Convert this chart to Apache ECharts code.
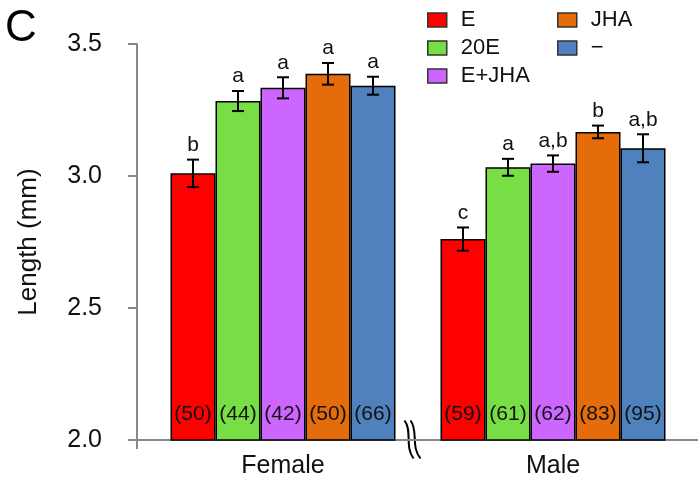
<!DOCTYPE html>
<html>
<head>
<meta charset="utf-8">
<title>Length (mm)</title>
<script src="https://cdn.jsdelivr.net/npm/echarts@6/dist/echarts.min.js"></script>
<style>
  html, body { margin: 0; padding: 0; background: #fff; }
  #chart { width: 698px; height: 491px; }
</style>
</head>
<body>
<div id="chart"></div>
<script>
// groups on the x axis and treatments (one bar each)
var groups = ['Female', 'Male'];
var treatments = ['E', '20E', 'E+JHA', 'JHA', '−'];

// mean length (mm) per treatment
var femaleMean = [3.010, 3.284, 3.334, 3.387, 3.342];
var maleMean = [2.761, 3.033, 3.047, 3.167, 3.105];

// error bar half-length
var femaleErr = [0.052, 0.038, 0.040, 0.041, 0.034];
var maleErr = [0.044, 0.032, 0.031, 0.024, 0.053];

// sample sizes
var femaleN = [50, 44, 42, 50, 66];
var maleN = [59, 61, 62, 83, 95];

// significance letters
var femaleLetters = ['b', 'a', 'a', 'a', 'a'];
var maleLetters = ['c', 'a', 'a,b', 'b', 'a,b'];

// y axis ticks
var yMin = 2.0, yMax = 3.5, yStep = 0.5;

var colors = ['#ff0000', '#77df45', '#cc66ff', '#e46c0a', '#4f81bd'];
var FONT = '"Liberation Sans", Arial, sans-serif';
var BAR_W = 45;

window.onload = function () {
    var myChart = echarts.init(document.getElementById('chart'));

    var means = [femaleMean, maleMean];
    var errs = [femaleErr, maleErr];
    var counts = [femaleN, maleN];
    var letters = [femaleLetters, maleLetters];

    var series = [];
    // one bar series per treatment
    for (let k = 0; k < treatments.length; k++) {
        series.push({
            name: treatments[k],
            type: 'bar',
            xAxisIndex: 0,
            yAxisIndex: 0,
            barWidth: BAR_W,
            barGap: '0%',
            data: [means[0][k], means[1][k]],
            itemStyle: { color: colors[k], borderColor: '#000', borderWidth: 1.5 },
            label: {
                show: true,
                position: 'insideBottom',
                distance: 16,
                fontFamily: FONT,
                fontSize: 21,
                color: '#111',
                formatter: function (p) { return '(' + counts[p.dataIndex][k] + ')'; }
            },
            z: 2
        });
    }

    // error bars + letters
    var errData = [];
    var errLetters = [];
    for (let g = 0; g < groups.length; g++) {
        for (let k = 0; k < treatments.length; k++) {
            errData.push([g, k, means[g][k], errs[g][k]]);
            errLetters.push(letters[g][k]);
        }
    }
    series.push({
        type: 'custom',
        xAxisIndex: 0,
        yAxisIndex: 0,
        z: 5,
        silent: true,
        encode: { x: 0, y: 2 },
        data: errData,
        renderItem: function (params, api) {
            var cat = api.value(0), k = api.value(1), m = api.value(2), e = api.value(3);
            var x = api.coord([cat, m])[0] + (k - 2) * BAR_W;
            var top = api.coord([cat, m + e])[1];
            var bot = api.coord([cat, m - e])[1];
            var st = { stroke: '#000', lineWidth: 2 };
            var cap = 6;
            return {
                type: 'group',
                children: [
                    { type: 'line', shape: { x1: x, y1: top, x2: x, y2: bot }, style: st },
                    { type: 'line', shape: { x1: x - cap, y1: top, x2: x + cap, y2: top }, style: st },
                    { type: 'line', shape: { x1: x - cap, y1: bot, x2: x + cap, y2: bot }, style: st },
                    {
                        type: 'text',
                        x: x, y: top - 4,
                        style: {
                            text: errLetters[params.dataIndex],
                            fontFamily: FONT, fontSize: 21, fill: '#111',
                            align: 'center', verticalAlign: 'bottom'
                        }
                    }
                ]
            };
        }
    });

    var legendCommon = {
        orient: 'vertical',
        top: 9,
        padding: 0,
        icon: 'rect',
        itemWidth: 19,
        itemHeight: 14,
        itemGap: 6,
        itemStyle: { borderColor: '#333', borderWidth: 1.5 },
        textStyle: { fontFamily: FONT, fontSize: 22, lineHeight: 22, color: '#111', padding: [0, 0, 0, 9] },
        selectedMode: false
    };

    var option = {
        animation: false,
        backgroundColor: '#fff',
        title: {
            text: 'C',
            left: 5,
            top: 7,
            padding: 0,
            textStyle: { fontFamily: FONT, fontSize: 44, fontWeight: 'normal', color: '#000' }
        },
        legend: [
            Object.assign({}, legendCommon, { left: 427, data: treatments.slice(0, 3) }),
            Object.assign({}, legendCommon, { left: 557, data: treatments.slice(3) })
        ],
        grid: [
            { left: 148, right: 10, top: 44, bottom: 51 },  // bars
            { left: 137, right: 0, top: 44, bottom: 51 }    // axis frame
        ],
        xAxis: [
            {
                gridIndex: 0,
                type: 'category',
                data: groups,
                axisLine: { show: false },
                axisTick: { show: false },
                axisLabel: { fontFamily: FONT, fontSize: 25, color: '#111', margin: 14 }
            },
            {
                gridIndex: 1,
                type: 'value',
                min: 0,
                max: 1,
                axisLine: { show: true, lineStyle: { color: '#888', width: 2 } },
                axisTick: { show: true, customValues: [0], length: 9, lineStyle: { color: '#888', width: 2 } },
                axisLabel: { show: false },
                splitLine: { show: false }
            }
        ],
        yAxis: [
            {
                gridIndex: 0,
                type: 'value',
                min: yMin,
                max: yMax,
                interval: yStep,
                show: false,
                splitLine: { show: false }
            },
            {
                gridIndex: 1,
                type: 'value',
                min: yMin,
                max: yMax,
                interval: yStep,
                name: 'Length (mm)',
                nameLocation: 'middle',
                nameGap: 95,
                nameTextStyle: { fontFamily: FONT, fontSize: 26, color: '#111' },
                axisLine: { show: true, lineStyle: { color: '#888', width: 2 } },
                axisTick: { show: true, length: 9, lineStyle: { color: '#888', width: 2 } },
                axisLabel: {
                    fontFamily: FONT, fontSize: 25, color: '#111', margin: 35,
                    formatter: function (v) { return v.toFixed(1); }
                },
                splitLine: { show: false }
            }
        ],
        // axis break mark between the groups
        graphic: [{
            type: 'group',
            left: 402,
            top: 418,
            children: [
                { type: 'bezierCurve', shape: { x1: 1, y1: 0, cpx1: 9, cpy1: 10, cpx2: 1, cpy2: 26, x2: 10, y2: 38 }, style: { stroke: '#000', lineWidth: 2, fill: null } },
                { type: 'bezierCurve', shape: { x1: 7, y1: 0, cpx1: 15, cpy1: 10, cpx2: 7, cpy2: 26, x2: 17, y2: 38 }, style: { stroke: '#000', lineWidth: 2, fill: null } }
            ]
        }],
        series: series
    };

    myChart.setOption(option);
};
</script>
</body>
</html>
